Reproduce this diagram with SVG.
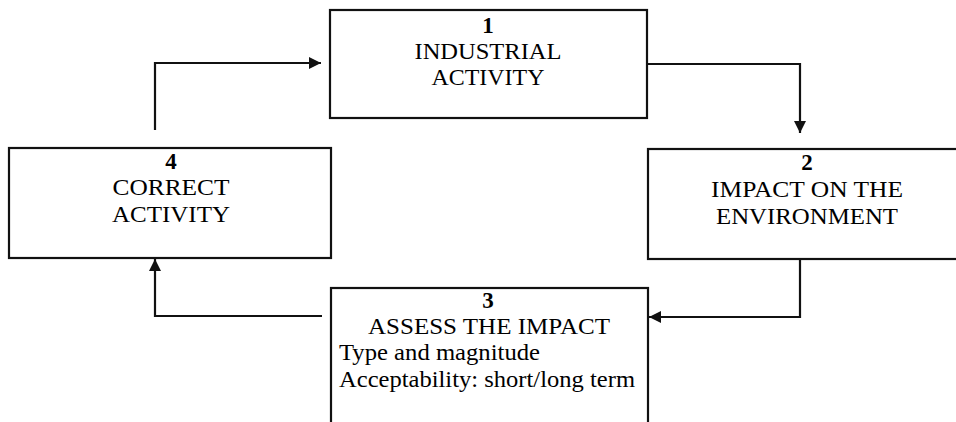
<svg xmlns="http://www.w3.org/2000/svg" width="956" height="422" viewBox="0 0 956 422">
<defs>
<style>
.box{fill:#fff;stroke:#111;stroke-width:2.2}
.t{font-family:"Liberation Serif","Times New Roman",serif;font-size:23px;fill:#000;text-anchor:middle}
.n{font-weight:bold}
.l{text-anchor:start}
.c{fill:none;stroke:#111;stroke-width:2.2}
</style>
<marker id="ah" viewBox="0 0 10 10" refX="10" refY="5" markerWidth="12" markerHeight="12" markerUnits="userSpaceOnUse" orient="auto">
<path d="M0,0 L10,5 L0,10 Z" fill="#111"/>
</marker>
</defs>
<rect width="956" height="422" fill="#fff"/>
<g id="connectors">
<path class="c" d="M155,130 V63 H321" marker-end="url(#ah)"/>
<path class="c" d="M648,64 H800 V133" marker-end="url(#ah)"/>
<path class="c" d="M800,259 V317 H649" marker-end="url(#ah)"/>
<path class="c" d="M322,316 H155 V259" marker-end="url(#ah)"/>
</g>
<g id="node1">
<rect class="box" x="330" y="10" width="317" height="108"/>
<text class="t n" x="488" y="33">1</text>
<text class="t" x="488" y="59" textLength="147" lengthAdjust="spacingAndGlyphs">INDUSTRIAL</text>
<text class="t" x="488" y="85" textLength="113" lengthAdjust="spacingAndGlyphs">ACTIVITY</text>
</g>
<g id="node2">
<rect class="box" x="648" y="149" width="320" height="110"/>
<text class="t n" x="807" y="170">2</text>
<text class="t" x="807" y="197" textLength="192" lengthAdjust="spacingAndGlyphs">IMPACT ON THE</text>
<text class="t" x="807" y="224" textLength="182" lengthAdjust="spacingAndGlyphs">ENVIRONMENT</text>
</g>
<g id="node3">
<rect class="box" x="331" y="288" width="317" height="140"/>
<text class="t n" x="488" y="308">3</text>
<text class="t" x="489" y="334" textLength="242" lengthAdjust="spacingAndGlyphs">ASSESS THE IMPACT</text>
<text class="t l" x="339" y="360" textLength="201" lengthAdjust="spacingAndGlyphs">Type and magnitude</text>
<text class="t l" x="339" y="387" textLength="296" lengthAdjust="spacingAndGlyphs">Acceptability: short/long term</text>
</g>
<g id="node4">
<rect class="box" x="9" y="148" width="322" height="110"/>
<text class="t n" x="171" y="169">4</text>
<text class="t" x="171" y="195" textLength="117" lengthAdjust="spacingAndGlyphs">CORRECT</text>
<text class="t" x="171" y="222" textLength="118" lengthAdjust="spacingAndGlyphs">ACTIVITY</text>
</g>
</svg>
